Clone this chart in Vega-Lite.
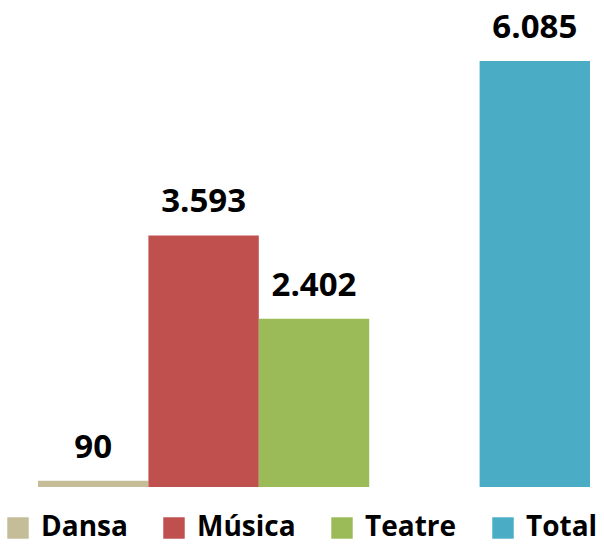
{
  "$schema": "https://vega.github.io/schema/vega-lite/v6.json",
  "width": 552,
  "height": 426,
  "autosize": {"type": "none"},
  "padding": {"left": 38, "top": 61, "right": 14, "bottom": 57},
  "config": {
    "view": {"stroke": null},
    "locale": {"number": {"decimal": ",", "thousands": ".", "grouping": [3], "currency": ["", " €"]}}
  },
  "data": {
    "values": [
      {"cat": "Dansa", "value": 90},
      {"cat": "Música", "value": 3593},
      {"cat": "Teatre", "value": 2402},
      {"cat": "Total", "value": 6085}
    ]
  },
  "encoding": {
    "x": {
      "field": "cat",
      "type": "nominal",
      "sort": null,
      "scale": {"domain": ["Dansa", "Música", "Teatre", "_", "Total"], "paddingInner": 0, "paddingOuter": 0},
      "axis": null
    },
    "y": {
      "field": "value",
      "type": "quantitative",
      "scale": {"domain": [0, 6085], "nice": false, "zero": true},
      "axis": null
    }
  },
  "layer": [
    {
      "mark": {"type": "bar"},
      "encoding": {
        "color": {
          "field": "cat",
          "type": "nominal",
          "scale": {"domain": ["Dansa", "Música", "Teatre", "Total"], "range": ["#C4BD97", "#C0504D", "#9BBB59", "#4BACC6"]},
          "legend": {
            "title": null,
            "orient": "none",
            "legendX": -34,
            "legendY": 453,
            "direction": "horizontal",
            "padding": 0,
            "symbolType": "square",
            "symbolSize": 460,
            "symbolStrokeWidth": 0,
            "symbolOpacity": 1,
            "labelFont": "Open Sans",
            "labelFontWeight": "bold",
            "labelFontSize": 28,
            "labelColor": "#000000",
            "labelOffset": 9,
            "columnPadding": 32,
            "labelLimit": 300
          }
        }
      }
    },
    {
      "mark": {"type": "text", "font": "Open Sans", "fontWeight": "bold", "fontSize": 33, "baseline": "alphabetic", "dy": -23, "color": "#000000"},
      "encoding": {
        "text": {"field": "value", "type": "quantitative", "format": ",d"}
      }
    }
  ]
}
